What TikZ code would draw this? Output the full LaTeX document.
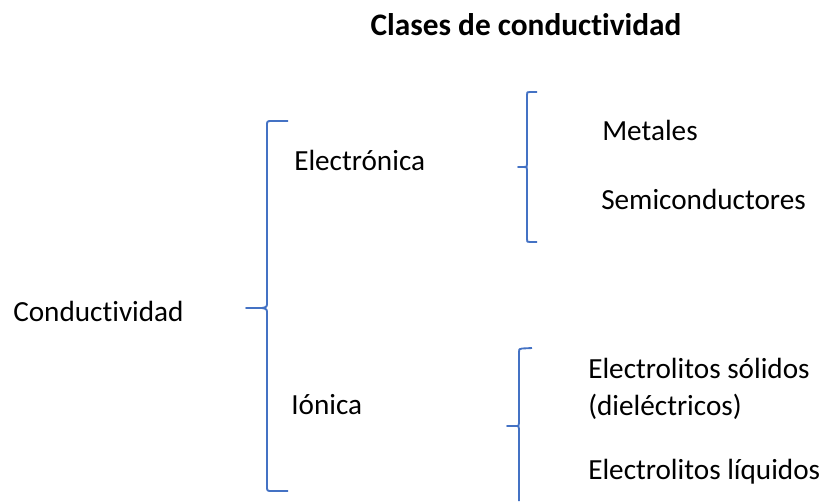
\documentclass[tikz,border=0pt]{standalone}
\usepackage{fontspec}
\setmainfont[Ligatures=NoCommon]{Carlito}
\definecolor{bracecol}{HTML}{4472C4}
\begin{document}
\begin{tikzpicture}[x=0.75pt,y=-0.75pt,
  lbl/.style={anchor=west,inner sep=0pt,font=\fontsize{21.9}{26}\selectfont},
  title/.style={inner sep=0pt,font=\bfseries\fontsize{23.5}{28}\selectfont},
  brace/.style={draw=bracecol,line width=1.4pt,line join=round}]
\useasboundingbox (0,0) rectangle (824,501);
\node[title] (t) at (526,25) {Clases de conductividad};
\node[lbl] (c) at (13,311) {Conductividad};
\node[lbl] (e) at (294,160) {Electrónica};
\node[lbl] (i) at (291,405) {Iónica};
\node[lbl] (m) at (602,130) {Metales};
\node[lbl] (s) at (601,199) {Semiconductores};
\node[lbl] (es) at (588,368) {Electrolitos sólidos};
\node[lbl] (d) at (588,407) {(dieléctricos)};
\node[lbl] (el) at (588,472) {Electrolitos líquidos};
% big brace
\coordinate (b1t) at (288,121);
\coordinate (b1m) at (246,308);
\coordinate (b1b) at (288,491);
\draw[brace] (b1t) -- (272,121) .. controls (267,121) .. (267,126) -- (267,302)
  .. controls (267,307) .. (262,308) -- (b1m) -- (262,308) .. controls (267,309) .. (267,314)
  -- (267,486) .. controls (267,491) .. (272,491) -- (b1b);
% brace 2
\coordinate (b2t) at (537,92);
\coordinate (b2m) at (518,167);
\coordinate (b2b) at (537,242);
\draw[brace] (b2t) -- (530,92) .. controls (527,92) .. (527,95) -- (527,164)
  .. controls (527,167) .. (524,167) -- (b2m) -- (524,167) .. controls (527,167) .. (527,170)
  -- (527,239) .. controls (527,242) .. (530,242) -- (b2b);
% brace 3
\coordinate (b3t) at (532,348);
\coordinate (b3m) at (507,426);
\coordinate (b3b) at (519,501);
\draw[brace] (b3t) -- (522,348.5) .. controls (519,349) .. (519,352) -- (519,423)
  .. controls (519,426) .. (515,426) -- (b3m) -- (515,426) .. controls (519,426) .. (519,429)
  -- (b3b);
\end{tikzpicture}
\end{document}
